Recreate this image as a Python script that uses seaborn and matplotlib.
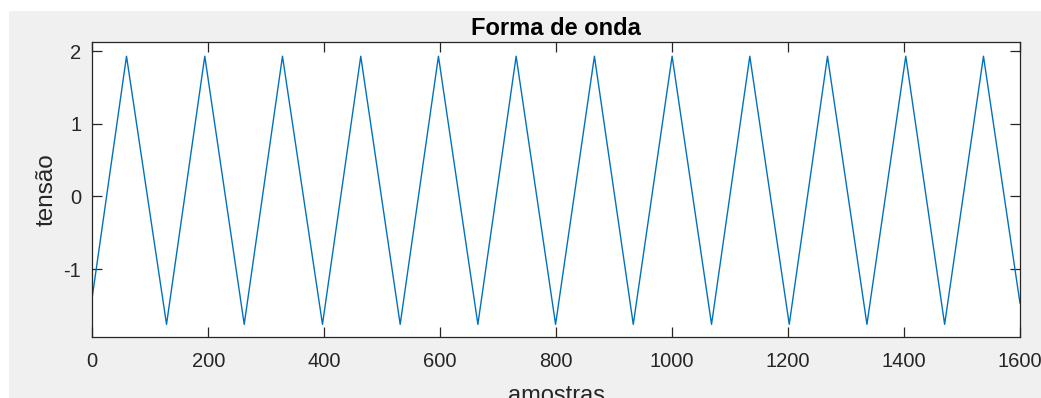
import matplotlib
matplotlib.use("Agg")
import matplotlib.pyplot as plt
from matplotlib.patches import Rectangle
import seaborn as sns
import pandas as pd

# Vertices of the triangular waveform (sample index, voltage)
amostras = [0, 59, 128, 194, 262, 328, 397, 463, 531, 597, 665, 731, 799,
            866, 933, 1000, 1068, 1134, 1202, 1268, 1336, 1403, 1470, 1537, 1600]
tensao = [-1.38, 1.93, -1.76, 1.93, -1.76, 1.93, -1.76, 1.93, -1.76, 1.93,
          -1.76, 1.93, -1.76, 1.93, -1.76, 1.93, -1.76, 1.93, -1.76, 1.93,
          -1.76, 1.93, -1.76, 1.93, -1.47]

x_ticks = [0, 200, 400, 600, 800, 1000, 1200, 1400, 1600]
y_ticks = [-1, 0, 1, 2]

df = pd.DataFrame({"amostras": amostras, "tensao": tensao})

sns.set_theme(style="white")
plt.rcParams["font.family"] = ["Liberation Sans", "DejaVu Sans"]

W, H = 1041, 398
fig = plt.figure(figsize=(W / 100, H / 100), dpi=100)
fig.patch.set_facecolor("white")
fig.add_artist(Rectangle((9 / W, 0), 1 - 9 / W, 1 - 11 / H,
                         transform=fig.transFigure, facecolor="#f0f0f0",
                         edgecolor="none", zorder=-10))

ax = fig.add_axes([92.3 / W, 1 - 336.7 / H, (1020 - 92.3) / W, (336.7 - 41.7) / H])
ax.set_facecolor("white")

sns.lineplot(data=df, x="amostras", y="tensao", ax=ax, color="#0072BD",
             linewidth=1.0, sort=False, estimator=None)

ax.set_xlim(0, 1600)
ax.set_ylim(-1.93, 2.13)
ax.set_xticks(x_ticks)
ax.set_yticks(y_ticks)
ax.set_xticklabels([str(v) for v in x_ticks])
ax.set_yticklabels([str(v) for v in y_ticks])

txt = "#262626"
for s in ax.spines.values():
    s.set_visible(True)
    s.set_color(txt)
    s.set_linewidth(0.9)
ax.tick_params(axis="both", direction="in", length=7, width=0.9, color=txt,
               labelcolor=txt, labelsize=14.5, top=True, right=True,
               left=True, bottom=True)
ax.tick_params(axis="x", pad=11)
ax.tick_params(axis="y", pad=8)

ax.set_title("Forma de onda", fontsize=17, fontweight="bold", color="black", pad=5)
ax.set_xlabel("amostras", fontsize=17, color=txt, labelpad=10)
ax.set_ylabel("tensão", fontsize=17.5, color=txt, labelpad=4)

fig.savefig("out.png", dpi=100, facecolor=fig.get_facecolor())
